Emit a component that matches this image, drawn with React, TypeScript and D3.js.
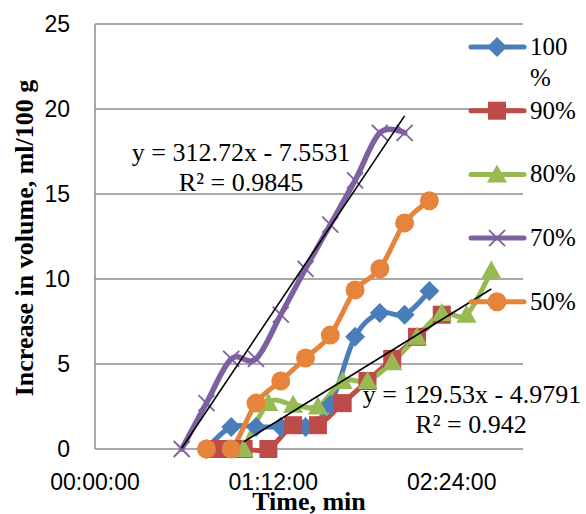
import React from 'react';
import * as d3 from 'd3';

const width = 586;
const height = 514;
const margin = { top: 24, right: 63, bottom: 65, left: 95 };

// time in minutes, values in ml/100 g
const t100 = [45, 55, 65, 75, 85, 95, 105, 115, 125, 135];
const v100 = [0, 1.3, 1.3, 1.3, 1.3, 2.6, 6.6, 8.0, 7.9, 9.3];
const t90 = [50, 60, 70, 80, 90, 100, 110, 120, 130, 140];
const v90 = [0, 0, 0, 1.4, 1.4, 2.7, 4.0, 5.3, 6.6, 7.9];
const t80 = [60, 70, 80, 90, 100, 110, 120, 130, 140, 150, 160];
const v80 = [0, 2.7, 2.6, 2.5, 4.0, 4.0, 5.1, 6.6, 8.0, 7.9, 10.5];
const t70 = [35, 45, 55, 65, 75, 85, 95, 105, 115, 125];
const v70 = [0, 2.7, 5.3, 5.3, 7.9, 10.6, 13.2, 15.8, 18.6, 18.6];
const t50 = [45, 55, 65, 75, 85, 95, 105, 115, 125, 135];
const v50 = [0, 0, 2.7, 4.0, 5.35, 6.7, 9.35, 10.6, 13.3, 14.6];

const names = ['100 %', '90%', '80%', '70%', '50%'];
const colors = ['#4A7EBB', '#BE4B48', '#98B954', '#7D60A0', '#E5843A'];
const shapes = ['diamond', 'square', 'triangle', 'x', 'circle'];

const yTicks = [0, 5, 10, 15, 20, 25];
const xTicks = [0, 0.05, 0.1]; // fraction of a day

// linear trendlines as given on the chart (x in days)
const trendA = { series: 3, slope: 312.72, intercept: -7.5531, r2: 0.9845 };
const trendB = { series: 2, slope: 129.53, intercept: -4.9791, r2: 0.942 };

const series = [
  { t: t100, v: v100 },
  { t: t90, v: v90 },
  { t: t80, v: v80 },
  { t: t70, v: v70 },
  { t: t50, v: v50 },
];

const x = d3.scaleLinear().domain([0, 0.12]).range([margin.left, width - margin.right]);
const y = d3.scaleLinear().domain([0, 25]).range([height - margin.bottom, margin.top]);

const fmtTime = (d: number) => {
  const s = Math.round(d * 86400);
  const p = (n: number) => String(n).padStart(2, '0');
  return `${p(Math.floor(s / 3600))}:${p(Math.floor((s % 3600) / 60))}:${p(s % 60)}`;
};

const line = d3
  .line<[number, number]>()
  .x(d => x(d[0] / 1440))
  .y(d => y(d[1]))
  .curve(d3.curveCatmullRom.alpha(0));

function Marker({ shape, color, cx, cy }: { shape: string; color: string; cx: number; cy: number }) {
  if (shape === 'diamond')
    return <path d="M0,-10L10,0L0,10L-10,0Z" fill={color} transform={`translate(${cx},${cy})`} />;
  if (shape === 'square')
    return <rect x={cx - 9} y={cy - 9} width={18} height={18} fill={color} />;
  if (shape === 'triangle')
    return <path d="M0,-10L10,8L-10,8Z" fill={color} transform={`translate(${cx},${cy})`} />;
  if (shape === 'x')
    return (
      <path d="M-8,-8L8,8M-8,8L8,-8" stroke={color} strokeWidth={1.8} fill="none"
        transform={`translate(${cx},${cy})`} />
    );
  return <circle cx={cx} cy={cy} r={9.5} fill={color} />;
}

function trendPath(tr: typeof trendA) {
  const s = series[tr.series];
  const d0 = s.t[0] / 1440;
  const d1 = s.t[s.t.length - 1] / 1440;
  return `M${x(d0)},${y(tr.slope * d0 + tr.intercept)}L${x(d1)},${y(tr.slope * d1 + tr.intercept)}`;
}

const eqText = (tr: typeof trendA) =>
  `y = ${tr.slope}x ${tr.intercept < 0 ? '-' : '+'} ${Math.abs(tr.intercept)}`;

export default function App() {
  const serif = '"Liberation Serif", "Times New Roman", serif';
  const sans = '"Liberation Sans", Arial, sans-serif';
  const legendY = (i: number) => 47 + i * 63.7;

  return (
    <svg width={width} height={height} style={{ position: 'absolute', left: 0, top: 0, background: '#fff' }}>
      {/* gridlines */}
      {yTicks.map(t => (
        <line key={t} x1={x(0)} x2={x(0.12)} y1={y(t)} y2={y(t)} stroke="#8c8c8c" strokeWidth={1.5} />
      ))}
      <line x1={x(0)} x2={x(0)} y1={y(0)} y2={y(25)} stroke="#8c8c8c" strokeWidth={1.5} />

      {/* tick labels */}
      {yTicks.map(t => (
        <text key={t} x={70} y={y(t)} dy="0.36em" textAnchor="end" fontFamily={sans} fontSize={23}>
          {t}
        </text>
      ))}
      {xTicks.map(t => (
        <text key={t} x={x(t)} y={490} textAnchor="middle" fontFamily={sans} fontSize={23}>
          {fmtTime(t)}
        </text>
      ))}

      {/* series */}
      {series.map((s, i) => (
        <path key={i} d={line(s.t.map((t, j) => [t, s.v[j]]) as [number, number][]) || ''}
          fill="none" stroke={colors[i]} strokeWidth={i === 3 ? 5.5 : 5} strokeLinejoin="round" strokeLinecap="round" />
      ))}
      {series.map((s, i) =>
        s.t.map((t, j) => (
          <Marker key={`${i}-${j}`} shape={shapes[i]} color={colors[i]} cx={x(t / 1440)} cy={y(s.v[j])} />
        ))
      )}

      {/* trendlines */}
      <path d={trendPath(trendA)} stroke="#000" strokeWidth={1.6} fill="none" />
      <path d={trendPath(trendB)} stroke="#000" strokeWidth={1.6} fill="none" />

      <text x={241} y={161} textAnchor="middle" fontFamily={serif} fontSize={26}>{eqText(trendA)}</text>
      <text x={241} y={191} textAnchor="middle" fontFamily={serif} fontSize={26}>{`R² = ${trendA.r2}`}</text>
      <text x={472} y={403} textAnchor="middle" fontFamily={serif} fontSize={26}>{eqText(trendB)}</text>
      <text x={471} y={433} textAnchor="middle" fontFamily={serif} fontSize={26}>{`R² = ${trendB.r2}`}</text>

      {/* legend */}
      {names.map((n, i) => (
        <g key={n}>
          <line x1={471} x2={524} y1={legendY(i)} y2={legendY(i)} stroke={colors[i]} strokeWidth={5} strokeLinecap="round" />
          <Marker shape={shapes[i]} color={colors[i]} cx={497} cy={legendY(i)} />
          <text x={530} y={legendY(i) + 8} fontFamily={serif} fontSize={25}>
            {n.includes(' ') ? (
              <>
                <tspan x={530}>{n.split(' ')[0]}</tspan>
                <tspan x={530} dy={31}>{n.split(' ')[1]}</tspan>
              </>
            ) : n}
          </text>
        </g>
      ))}

      {/* axis titles */}
      <text transform={`translate(33,238) rotate(-90)`} textAnchor="middle" fontFamily={serif} fontWeight="bold" fontSize={26}>
        Increase in volume, ml/100 g
      </text>
      <text x={309} y={510} textAnchor="middle" fontFamily={serif} fontWeight="bold" fontSize={26}>
        Time, min
      </text>
    </svg>
  );
}
